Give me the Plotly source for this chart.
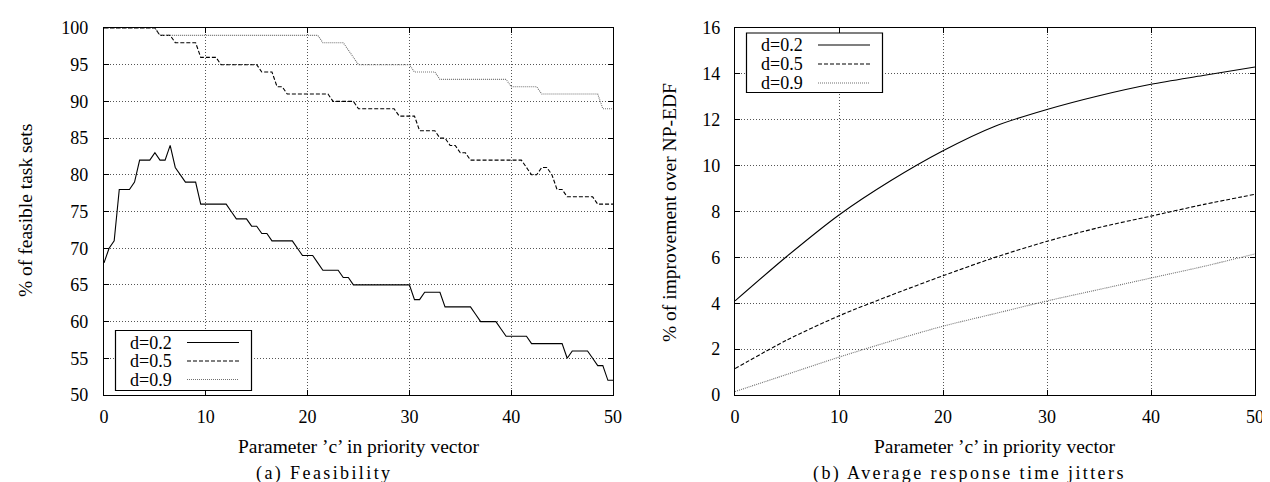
import numpy as np
import plotly.graph_objects as go

# ---------------- data ----------------
c_a = [i * 0.5 for i in range(101)]          # parameter 'c' (left panel)
feas_d02 = [68, 70, 71, 78, 78, 78, 79, 82, 82, 82,
            83, 82, 82, 84, 81, 80, 79, 79, 79, 76,
            76, 76, 76, 76, 76, 75, 74, 74, 74, 73,
            73, 72, 72, 71, 71, 71, 71, 71, 70, 69,
            69, 69, 68, 67, 67, 67, 67, 66, 66, 65,
            65, 65, 65, 65, 65, 65, 65, 65, 65, 65,
            65, 63, 63, 64, 64, 64, 64, 62, 62, 62,
            62, 62, 62, 61, 60, 60, 60, 60, 59, 58,
            58, 58, 58, 58, 57, 57, 57, 57, 57, 57,
            57, 55, 56, 56, 56, 56, 55, 54, 54, 52,
            52]
feas_d05 = [100, 100, 100, 100, 100, 100, 100, 100, 100, 100,
            100, 99, 99, 99, 98, 98, 98, 98, 98, 96,
            96, 96, 96, 95, 95, 95, 95, 95, 95, 95,
            95, 94, 94, 94, 92, 92, 91, 91, 91, 91,
            91, 91, 91, 91, 91, 90, 90, 90, 90, 90,
            89, 89, 89, 89, 89, 89, 89, 89, 88, 88,
            88, 88, 86, 86, 86, 86, 85, 85, 84, 84,
            83, 83, 82, 82, 82, 82, 82, 82, 82, 82,
            82, 82, 82, 81, 80, 80, 81, 81, 80, 78,
            78, 77, 77, 77, 77, 77, 77, 76, 76, 76,
            76]
feas_d09 = [100, 100, 100, 100, 100, 100, 100, 100, 100, 100,
            100, 99, 99, 99, 99, 99, 99, 99, 99, 99,
            99, 99, 99, 99, 99, 99, 99, 99, 99, 99,
            99, 99, 99, 99, 99, 99, 99, 99, 99, 99,
            99, 99, 99, 98, 98, 98, 98, 98, 97, 96,
            95, 95, 95, 95, 95, 95, 95, 95, 95, 95,
            95, 94, 94, 94, 94, 94, 93, 93, 93, 93,
            93, 93, 93, 93, 93, 93, 93, 93, 93, 93,
            92, 92, 92, 92, 92, 92, 91, 91, 91, 91,
            91, 91, 91, 91, 91, 91, 91, 91, 89, 89,
            89]

c_b = [0, 5, 10, 15, 20, 25, 30, 35, 40, 45, 50]  # parameter 'c' (right panel)
jit_d02 = [4.1, 6.05, 7.85, 9.35, 10.65, 11.72, 12.45, 13.05, 13.55, 13.93, 14.3]
jit_d05 = [1.15, 2.4, 3.45, 4.35, 5.2, 6.0, 6.7, 7.3, 7.8, 8.3, 8.75]
jit_d09 = [0.15, 0.9, 1.65, 2.35, 3.0, 3.55, 4.1, 4.6, 5.1, 5.6, 6.15]

series_names = ["d=0.2", "d=0.5", "d=0.9"]
x_ticks = [0, 10, 20, 30, 40, 50]
y_ticks_a = [50, 55, 60, 65, 70, 75, 80, 85, 90, 95, 100]
y_ticks_b = [0, 2, 4, 6, 8, 10, 12, 14, 16]

# ---------------- style ----------------
W, H = 1270, 482
SERIF = "Liberation Serif, Times New Roman, serif"
styles = [dict(color="black", width=1.1, dash="solid"),
          dict(color="black", width=1.1, dash="4px,2px"),
          dict(color="#707070", width=1.1, dash="1px,1px")]

fig = go.Figure()
for ys, st, nm in zip([feas_d02, feas_d05, feas_d09], styles, series_names):
    fig.add_trace(go.Scatter(x=c_a, y=ys, mode="lines", name=nm, line=st,
                             xaxis="x", yaxis="y", showlegend=False))
for ys, st, nm in zip([jit_d02, jit_d05, jit_d09], styles, series_names):
    fig.add_trace(go.Scatter(x=c_b, y=ys, mode="lines", name=nm,
                             line=dict(**st, shape="spline", smoothing=0.8),
                             xaxis="x2", yaxis="y2", showlegend=False))

def px(x):
    return x / W

def py(y):
    return 1 - y / H

axis_common = dict(showline=True, linecolor="black", linewidth=1.3, mirror="ticks",
                   ticks="inside", ticklen=5, tickcolor="black", tickwidth=1.2,
                   showgrid=True, gridcolor="#555555", griddash="1px,2px", gridwidth=1,
                   zeroline=False, automargin=False,
                   tickfont=dict(family=SERIF, size=18, color="black"))

fig.update_layout(
    width=W, height=H, margin=dict(l=0, r=0, t=0, b=0),
    paper_bgcolor="white", plot_bgcolor="white", showlegend=False,
    xaxis=dict(domain=[px(96), px(605)], range=[0, 50], tickvals=x_ticks,
               anchor="y", ticklabelstandoff=5, **axis_common),
    yaxis=dict(domain=[py(387), py(20)], range=[50, 100], tickvals=y_ticks_a,
               anchor="x", ticklabelstandoff=11, **axis_common),
    xaxis2=dict(domain=[px(727), px(1247)], range=[0, 50], tickvals=x_ticks,
                anchor="y2", ticklabelstandoff=5, **axis_common),
    yaxis2=dict(domain=[py(387), py(20)], range=[0, 16], tickvals=y_ticks_b,
                anchor="x2", ticklabelstandoff=10, **axis_common),
)

annotations = []
shapes = []
# axis titles
for cx in [(96 + 605) / 2, (727 + 1247) / 2]:
    annotations.append(dict(x=px(cx), y=py(438), xref="paper", yref="paper",
                            text="Parameter ’c’ in priority vector", showarrow=False,
                            font=dict(family=SERIF, size=19.5, color="black"),
                            xanchor="center", yanchor="middle"))
annotations.append(dict(x=px(17), y=py(203), xref="paper", yref="paper",
                        text="% of feasible task sets", textangle=-90, showarrow=False,
                        font=dict(family=SERIF, size=19.5, color="black"),
                        xanchor="center", yanchor="middle"))
annotations.append(dict(x=px(661), y=py(205), xref="paper", yref="paper",
                        text="% of improvement over NP-EDF", textangle=-90, showarrow=False,
                        font=dict(family=SERIF, size=19.5, color="black"),
                        xanchor="center", yanchor="middle"))
# captions
for cx, cap in [(316, "(a) Feasibility"), (961, "(b) Average response time jitters")]:
    annotations.append(dict(x=px(cx), y=py(465), xref="paper", yref="paper",
                            text='<span style="letter-spacing:2.4px">' + cap + '</span>',
                            showarrow=False,
                            font=dict(family=SERIF, size=18, color="black"),
                            xanchor="center", yanchor="middle"))

# legends (gnuplot style: label then sample, boxed)
def legend(box, rows, text_right, sample):
    x0, y0, x1, y1 = box
    shapes.append(dict(type="rect", xref="paper", yref="paper",
                       x0=px(x0), x1=px(x1), y0=py(y1), y1=py(y0),
                       line=dict(color="black", width=1.2), fillcolor="white", layer="above"))
    for ry, nm, st in zip(rows, series_names, styles):
        annotations.append(dict(x=px(text_right), y=py(ry), xref="paper", yref="paper",
                                text=nm, showarrow=False, xanchor="right", yanchor="middle",
                                font=dict(family=SERIF, size=18, color="black")))
        shapes.append(dict(type="line", xref="paper", yref="paper",
                           x0=px(sample[0]), x1=px(sample[1]), y0=py(ry), y1=py(ry),
                           line=dict(color=st["color"], width=st["width"], dash=st["dash"]),
                           layer="above"))

legend((107.5, 322.5, 243.5, 382.5), [334.5, 353, 371.5], 166, (179, 231))
legend((738.5, 25, 874.5, 84.5), [37, 56, 75], 797, (810, 862))

fig.update_layout(annotations=annotations, shapes=shapes)
fig.write_html("out.html")
